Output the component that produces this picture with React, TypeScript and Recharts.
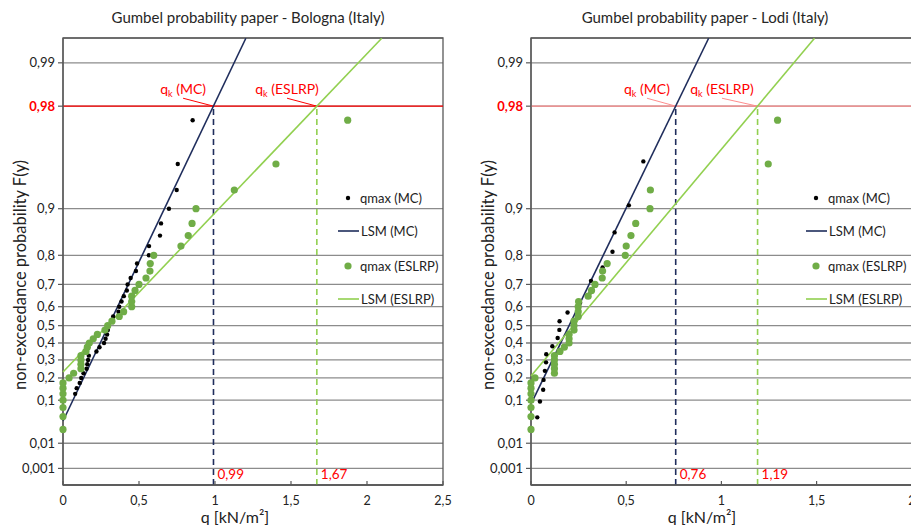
import React from 'react';
import {
  ComposedChart,
  Scatter,
  XAxis,
  YAxis,
  CartesianGrid,
  ReferenceLine,
  ReferenceDot,
  ReferenceArea,
  Legend,
} from 'recharts';

const FONT = 'Lato, "Open Sans", sans-serif';
const NAVY = '#1f2d5c';
const GREEN_DOT = '#70ad47';
const GREEN_LINE = '#92d050';
const AXIS = '#595959';
const H = 525;
const Y_MIN = -2.2;
const Y_MAX = 5;

// plotting positions i/(n+1)
const F_N39 = [
  0.025, 0.05, 0.075, 0.1, 0.125, 0.15, 0.175, 0.2, 0.225, 0.25, 0.275, 0.3, 0.325,
  0.35, 0.375, 0.4, 0.425, 0.45, 0.475, 0.5, 0.525, 0.55, 0.575, 0.6, 0.625, 0.65,
  0.675, 0.7, 0.725, 0.75, 0.775, 0.8, 0.825, 0.85, 0.875, 0.9, 0.925, 0.95, 0.975,
];
const F_N20 = [
  0.048, 0.095, 0.143, 0.19, 0.238, 0.286, 0.333, 0.381, 0.429, 0.476,
  0.524, 0.571, 0.619, 0.667, 0.714, 0.762, 0.81, 0.857, 0.905, 0.952,
];

const Q_TICKS = [0, 0.5, 1, 1.5, 2, 2.5];
const Q_TICK_LABELS = ['0', '0,5', '1', '1,5', '2', '2,5'];
const F_TICKS = [0.001, 0.01, 0.1, 0.2, 0.3, 0.4, 0.5, 0.6, 0.7, 0.8, 0.9, 0.98, 0.99];
const F_TICK_LABELS = ['0,001', '0,01', '0,1', '0,2', '0,3', '0,4', '0,5', '0,6', '0,7', '0,8', '0,9', '0,98', '0,99'];
const F_CHAR = 0.98;

// Bologna
const BOLOGNA_QMAX_MC = [
  0, 0, 0, 0, 0.08, 0.09, 0.11, 0.12, 0.135, 0.155, 0.16, 0.165, 0.17, 0.22, 0.24,
  0.27, 0.28, 0.29, 0.295, 0.3, 0.32, 0.33, 0.365, 0.37, 0.385, 0.4, 0.42, 0.425,
  0.445, 0.48, 0.487, 0.565, 0.566, 0.638, 0.645, 0.697, 0.748, 0.755, 0.853,
];
const BOLOGNA_QMAX_ESLRP = [
  0, 0, 0, 0, 0, 0, 0, 0.04, 0.07, 0.118, 0.118, 0.118, 0.118, 0.151, 0.16, 0.173,
  0.199, 0.226, 0.276, 0.294, 0.322, 0.37, 0.399, 0.452, 0.452, 0.452, 0.474, 0.5,
  0.546, 0.572, 0.574, 0.597, 0.776, 0.824, 0.849, 0.875, 1.127, 1.401, 1.873,
];
const BOLOGNA_LSM_MC_Q = [0, 1.203];
const BOLOGNA_LSM_MC_F = [0.04, 0.99326];
const BOLOGNA_LSM_ESLRP_Q = [0, 2.097];
const BOLOGNA_LSM_ESLRP_F = [0.232, 0.99326];
const BOLOGNA_QK = [0.99, 1.67];
const BOLOGNA_QK_LABELS = ['0,99', '1,67'];

// Lodi
const LODI_QMAX_MC = [
  0.033, 0.047, 0.064, 0.066, 0.073, 0.079, 0.08, 0.112, 0.14, 0.149,
  0.15, 0.192, 0.258, 0.314, 0.315, 0.376, 0.428, 0.439, 0.514, 0.59,
];
const LODI_QMAX_ESLRP = [
  0, 0, 0, 0, 0, 0, 0, 0.021, 0.123, 0.123, 0.123, 0.123, 0.123, 0.152, 0.175, 0.2,
  0.2, 0.2, 0.226, 0.226, 0.226, 0.248, 0.248, 0.248, 0.25, 0.3, 0.318, 0.336, 0.374,
  0.376, 0.4, 0.495, 0.5, 0.525, 0.55, 0.625, 0.627, 1.246, 1.295,
];
const LODI_LSM_MC_Q = [0.005, 0.933];
const LODI_LSM_MC_F = [0.093, 0.99326];
const LODI_LSM_ESLRP_Q = [0, 1.489];
const LODI_LSM_ESLRP_F = [0.21, 0.99326];
const LODI_QK = [0.76, 1.19];
const LODI_QK_LABELS = ['0,76', '1,19'];

const CALLOUT_TEXT = ['MC', 'ESLRP'];

const gumbel = (F: number) => -Math.log(-Math.log(F));
const toPoints = (qs: number[], fs: number[]) => qs.map((q, i) => ({ q, y: gumbel(fs[i]) }));

const XTick = (props: any) => {
  const { x, y, payload } = props;
  const i = Q_TICKS.indexOf(payload.value);
  return (
    <g>
      <line x1={x} x2={x} y1={y - 4} y2={y} stroke={AXIS} strokeWidth={1.2} />
      <text x={x} y={y + 20} textAnchor="middle" fontSize={12.5} fontFamily={FONT} fill="#222">
        {Q_TICK_LABELS[i]}
      </text>
    </g>
  );
};

const YTick = (props: any) => {
  const { x, y, payload } = props;
  const i = F_TICKS.findIndex((f) => Math.abs(gumbel(f) - payload.value) < 1e-9);
  const hot = F_TICKS[i] === F_CHAR;
  return (
    <text
      x={x}
      y={y}
      dy={4.5}
      textAnchor="end"
      fontSize={13}
      fontFamily={FONT}
      fontWeight={hot ? 700 : 400}
      fill={hot ? '#ff0000' : '#222'}
    >
      {F_TICK_LABELS[i]}
    </text>
  );
};

const noShape = () => <g />;
const mcDot = (p: any) => <circle cx={p.cx} cy={p.cy} r={2.2} fill="#000" />;
const eslrpDot = (p: any) => <circle cx={p.cx} cy={p.cy} r={3.6} fill={GREEN_DOT} />;

const LegendBox = () => (
  <svg width={110} height={122} style={{ display: 'block' }} fontFamily={FONT} fontSize={13} fill="#222">
    <circle cx={12} cy={10} r={2.2} fill="#000" />
    <text x={24} y={14.5}>qmax (MC)</text>
    <line x1={2} x2={23} y1={43} y2={43} stroke={NAVY} strokeWidth={1.6} />
    <text x={25} y={47.5}>LSM (MC)</text>
    <circle cx={12} cy={78} r={3.6} fill={GREEN_DOT} />
    <text x={24} y={82.5}>qmax (ESLRP)</text>
    <line x1={2} x2={23} y1={111} y2={111} stroke={GREEN_LINE} strokeWidth={1.6} />
    <text x={25} y={115.5}>LSM (ESLRP)</text>
  </svg>
);

type PanelProps = {
  title: string;
  left: number;
  width: number;
  yAxisWidth: number;
  marginRight: number;
  mc: number[];
  mcF: number[];
  eslrp: number[];
  lsmMcQ: number[];
  lsmMcF: number[];
  lsmEslrpQ: number[];
  lsmEslrpF: number[];
  qk: number[];
  qkLabels: string[];
  calloutQ: number[];
  redLine: string;
  titleX: number;
  yLabelX: number;
  xLabelX: number;
  legendLeft: number;
};

function Panel(p: PanelProps) {
  const yk = gumbel(F_CHAR);
  const yCallout = 4.03;
  return (
    <div style={{ position: 'absolute', left: p.left, top: 0, width: p.width, height: H }}>
      <div
        style={{
          position: 'absolute',
          left: p.titleX - 200,
          width: 400,
          top: 8,
          textAlign: 'center',
          fontFamily: FONT,
          fontSize: 15,
          color: '#262626',
          zIndex: 2,
        }}
      >
        {p.title}
      </div>
      <ComposedChart width={p.width} height={H} margin={{ top: 38, right: p.marginRight, bottom: 0, left: 0 }}>
        <CartesianGrid vertical={false} stroke="#8c8c8c" strokeWidth={1.3} />
        <XAxis
          type="number"
          dataKey="q"
          domain={[0, 2.5]}
          ticks={Q_TICKS}
          interval={0}
          height={40}
          tickSize={0}
          tickMargin={0}
          tickLine={false}
          axisLine={{ stroke: AXIS, strokeWidth: 1.3 }}
          tick={XTick}
          label={() => (
            <text x={p.xLabelX} y={523} textAnchor="middle" fontSize={16} fontFamily={FONT} fill="#222">
              q [kN/m²]
            </text>
          )}
        />
        <YAxis
          type="number"
          dataKey="y"
          domain={[Y_MIN, Y_MAX]}
          ticks={F_TICKS.map(gumbel)}
          interval={0}
          width={p.yAxisWidth}
          tickSize={5}
          tickMargin={3}
          tickLine={{ stroke: AXIS, strokeWidth: 1.2 }}
          axisLine={{ stroke: AXIS, strokeWidth: 1.3 }}
          tick={YTick}
          label={() => (
            <text
              x={p.yLabelX}
              y={275}
              transform={`rotate(-90 ${p.yLabelX} 275)`}
              textAnchor="middle"
              dominantBaseline="central"
              fontSize={16.5}
              fontFamily={FONT}
              fill="#222"
            >
              non-exceedance probability F(y)
            </text>
          )}
        />
        <ReferenceArea x1={0} x2={2.5} y1={Y_MIN} y2={Y_MAX} fill="none" stroke={AXIS} strokeWidth={1.3} ifOverflow="visible" />
        <ReferenceLine y={yk} stroke={p.redLine} strokeWidth={1.3} />
        {p.qk.map((q, i) => (
          <ReferenceLine
            key={'v' + i}
            segment={[{ x: q, y: Y_MIN }, { x: q, y: yk }]}
            stroke={i === 0 ? NAVY : GREEN_LINE}
            strokeWidth={1.6}
            strokeDasharray="6 4"
          />
        ))}
        {p.qk.map((q, i) => (
          <ReferenceLine
            key={'c' + i}
            segment={[{ x: p.calloutQ[i], y: yCallout }, { x: q, y: yk }]}
            stroke={p.redLine}
            strokeWidth={1}
          />
        ))}
        {p.calloutQ.map((q, i) => (
          <ReferenceDot
            key={'t' + i}
            x={q}
            y={yCallout}
            r={0}
            fill="none"
            stroke="none"
            ifOverflow="visible"
            label={(lp: any) => (
              <text
                x={lp.viewBox.x}
                y={lp.viewBox.y - 4}
                textAnchor="middle"
                fill="#ff0000"
                fontSize={14}
                fontFamily={FONT}
              >
                q<tspan fontSize={9} dy={3}>k</tspan>
                <tspan dy={-3}> ({CALLOUT_TEXT[i]})</tspan>
              </text>
            )}
          />
        ))}
        {p.qk.map((q, i) => (
          <ReferenceDot
            key={'n' + i}
            x={q}
            y={Y_MIN}
            r={0}
            fill="none"
            stroke="none"
            ifOverflow="visible"
            label={(lp: any) => (
              <text x={lp.viewBox.x + 4} y={lp.viewBox.y - 6} fill="#ff0000" fontSize={13.5} fontFamily={FONT}>
                {p.qkLabels[i]}
              </text>
            )}
          />
        ))}
        <Scatter
          data={toPoints(p.lsmMcQ, p.lsmMcF)}
          line={{ stroke: NAVY, strokeWidth: 1.6 }}
          shape={noShape}
          legendType="none"
          isAnimationActive={false}
        />
        <Scatter
          data={toPoints(p.lsmEslrpQ, p.lsmEslrpF)}
          line={{ stroke: GREEN_LINE, strokeWidth: 1.6 }}
          shape={noShape}
          legendType="none"
          isAnimationActive={false}
        />
        <Scatter data={toPoints(p.mc, p.mcF)} shape={mcDot} isAnimationActive={false} />
        <Scatter data={toPoints(p.eslrp, F_N39)} shape={eslrpDot} isAnimationActive={false} />
        <Legend
          layout="vertical"
          align="center"
          verticalAlign="middle"
          wrapperStyle={{ left: p.legendLeft, top: 188, width: 110 }}
          content={LegendBox}
        />
      </ComposedChart>
    </div>
  );
}

export default function App() {
  return (
    <div
      style={{
        position: 'absolute',
        left: 0,
        top: 0,
        width: 911,
        height: H,
        overflow: 'hidden',
        background: '#fff',
      }}
    >
      <Panel
        title="Gumbel probability paper - Bologna (Italy)"
        left={0}
        width={460}
        yAxisWidth={63}
        marginRight={17}
        mc={BOLOGNA_QMAX_MC}
        mcF={F_N39}
        eslrp={BOLOGNA_QMAX_ESLRP}
        lsmMcQ={BOLOGNA_LSM_MC_Q}
        lsmMcF={BOLOGNA_LSM_MC_F}
        lsmEslrpQ={BOLOGNA_LSM_ESLRP_Q}
        lsmEslrpF={BOLOGNA_LSM_ESLRP_F}
        qk={BOLOGNA_QK}
        qkLabels={BOLOGNA_QK_LABELS}
        calloutQ={[0.79, 1.474]}
        redLine="#ff0000"
        titleX={248}
        yLabelX={20}
        xLabelX={235}
        legendLeft={336}
      />
      <Panel
        title="Gumbel probability paper - Lodi (Italy)"
        left={455}
        width={570}
        yAxisWidth={76}
        marginRight={18}
        mc={LODI_QMAX_MC}
        mcF={F_N20}
        eslrp={LODI_QMAX_ESLRP}
        lsmMcQ={LODI_LSM_MC_Q}
        lsmMcF={LODI_LSM_MC_F}
        lsmEslrpQ={LODI_LSM_ESLRP_Q}
        lsmEslrpF={LODI_LSM_ESLRP_F}
        qk={LODI_QK}
        qkLabels={LODI_QK_LABELS}
        calloutQ={[0.609, 1.003]}
        redLine="#ff8c8c"
        titleX={250}
        yLabelX={33}
        xLabelX={247}
        legendLeft={349}
      />
    </div>
  );
}
